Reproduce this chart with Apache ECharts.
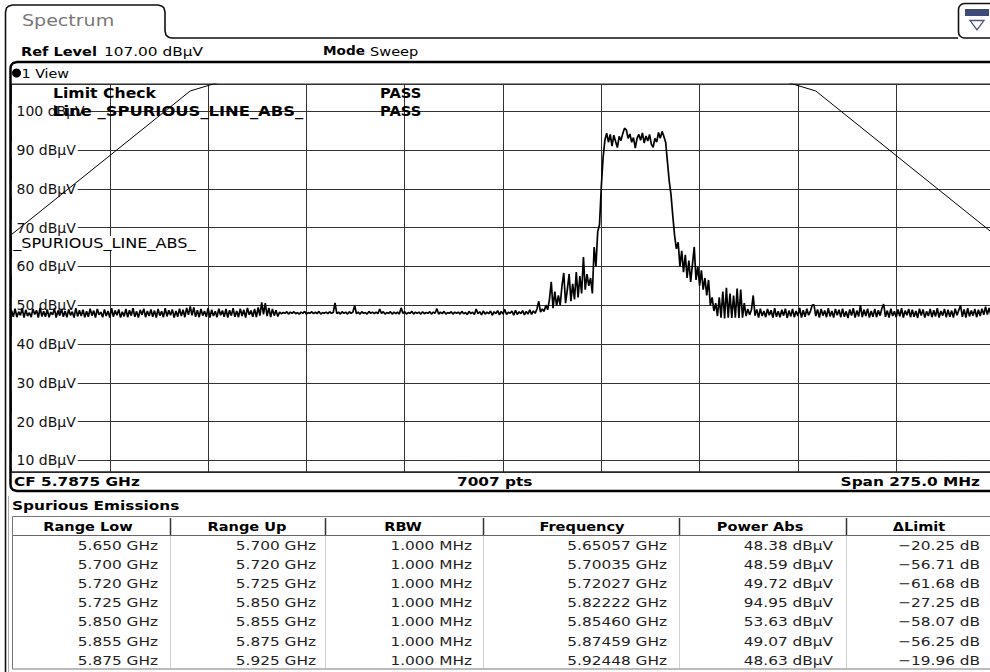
<!DOCTYPE html>
<html><head><meta charset="utf-8">
<script src="https://cdn.jsdelivr.net/npm/echarts@6/dist/echarts.min.js"></script>
<style>html,body{margin:0;padding:0;background:#fff}#c{width:990px;height:672px}</style>
</head><body><div id="c"></div>
<script>
// ---------- data ----------
const centerGHz = 5.7875;
const startMHz = 5650;
const spanMHz = 275;
const traceStepMHz = 0.5;
const yTickLabels = ['10 dBμV','20 dBμV','30 dBμV','40 dBμV','50 dBμV','60 dBμV','70 dBμV','80 dBμV','90 dBμV','100 dBμV'];

const traceA_startMHz = 0;
const traceA = [
48.6,47.0,49.1,46.9,48.3,47.4,49.2,46.8,48.8,47.2,48.1,46.9,49.0,47.6,48.7,46.8,49.3,47.1,48.4,47.0,
48.9,46.9,48.2,47.5,49.1,46.8,48.6,47.3,49.0,47.0,48.5,46.9,48.9,47.4,48.3,46.8,49.2,47.1,48.7,47.2,
48.8,46.9,48.4,47.0,49.1,47.3,48.6,46.8,49.0,47.5,48.2,46.9,48.9,47.2,48.5,46.8,49.2,47.0,48.6,47.4,
48.9,46.8,48.3,47.1,49.0,46.9,48.7,47.3,49.2,47.0,48.4,46.8,48.8,47.5,49.1,46.9,48.5,47.2,48.9,47.0,
48.6,46.8,49.0,47.3,48.4,46.9,49.2,47.1,48.7,47.4,48.9,46.8,48.5,47.0,49.1,47.2,48.8,46.9,49.3,47.5,
49.7,47.4,49.4,47.0,48.7,46.9,49.0,47.3,48.5,47.0,49.2,46.8,48.8,47.2,48.4,46.9,49.1,47.4,48.6,47.0,
49.0,46.8,48.7,47.3,49.2,47.0,48.5,46.9,49.1,47.2,48.8,46.8,49.3,47.5,48.6,47.0,49.0,46.9,49.4,47.3,
50.7,47.6,50.5,47.2,49.3,46.9,49.0,47.3,48.7,47.1];

const traceB_startMHz = 75;
const traceB = [
48.2,47.8,48.1,47.9,48.3,47.7,48.2,47.9,48.3,47.8,48.1,47.7,48.2,47.9,48.4,47.7,48.1,47.9,48.3,47.8,
48.2,47.8,48.4,47.7,48.1,47.9,48.2,47.8,48.3,47.9,48.1,50.6,47.8,48.2,47.7,48.3,47.9,48.2,47.7,48.3,
47.9,48.2,49.9,47.8,48.2,47.7,48.3,47.9,48.1,47.7,48.4,47.9,48.2,47.8,48.2,47.8,49.0,47.9,48.3,47.7,
48.1,47.9,48.3,47.7,48.2,47.8,48.2,47.7,49.3,47.9,48.3,47.7,48.1,47.9,48.4,47.7,48.2,47.9,48.2,47.7,
48.3,47.8,48.1,47.9,48.3,47.7,48.2,47.9,49.1,47.7,48.2,47.8,48.4,47.7,48.1,47.9,48.3,47.7,48.2,47.9,
48.2,47.7,48.4,47.8,48.1,47.6,48.4,47.8,48.2,47.6,49.0,47.8,48.3,47.5,48.5,47.7,48.2,47.8,48.5,47.4,
48.3,47.8,48.6,47.5,48.4,47.7,48.9,47.6,48.2,47.9,48.5,47.4,48.7,47.6,48.3,47.8,48.6,47.5,48.4,47.7,
48.8,47.6,48.5,47.9,49.0];

const traceC_startMHz = 147.5;
const traceC = [
51.0,48.2,49.0,48.4,50.0,48.8,51.5,56.0,49.2,53.5,
49.8,52.5,50.0,55.0,58.3,50.5,54.0,58.0,51.0,55.5,
51.5,58.5,52.0,57.5,53.0,62.4,54.0,58.0,55.0,57.0,
53.0,65.0,60.0,69.0,70.7,80.5,88.0,92.5,94.3,92.0,
94.0,91.0,93.8,92.2,90.6,93.5,92.4,94.2,95.6,95.2,
93.0,94.1,92.0,93.2,90.5,93.0,94.0,92.5,94.4,91.8,
93.6,92.3,94.0,91.5,90.7,93.0,92.0,94.5,93.0,94.8,
93.5,92.0,87.0,82.0,78.5,73.0,68.0,64.5,66.2,60.0,
64.0,58.5,63.0,57.0,61.5,56.0,60.5,65.0,56.5,60.0,
55.0,59.0,54.0,57.0,52.5,56.5,50.0,52.0,48.5,50.5,
47.2,52.0,46.8,53.5,46.6,54.5,46.8,53.0,46.7,52.5,
46.8,54.3,46.7,54.0,46.8,50.5,47.2,49.0,47.5,48.8,
52.5];

const traceD_startMHz = 208;
const traceD = [
47.3,
48.9,46.8,49.1,47.2,48.5,46.9,49.0,47.4,48.7,46.8,49.2,47.0,48.4,46.9,48.8,47.3,49.1,46.7,48.6,47.1,
49.0,46.9,48.5,47.2,49.3,46.8,48.7,47.0,49.1,47.4,48.4,50.0,50.1,47.2,48.9,46.8,49.0,47.3,48.6,46.9,
49.2,47.1,48.5,46.8,49.0,47.4,48.8,46.9,49.1,47.0,48.4,46.7,48.9,47.3,49.2,46.8,48.6,47.1,50.0,46.9,
48.8,47.2,49.1,46.8,48.5,47.0,49.0,46.9,48.7,47.3,49.2,50.3,47.0,48.6,46.8,49.1,47.2,48.4,46.9,48.9,
47.1,49.2,46.8,48.6,47.4,49.0,46.9,48.8,47.0,48.5,46.7,49.1,47.3,48.9,46.8,48.4,47.2,49.0,46.9,48.7,
47.1,49.2,46.8,48.5,47.3,49.0,46.9,48.8,47.0,48.6,46.8,49.1,47.4,48.7,50.0,47.0,48.9,46.8,49.2,47.1,
48.6,47.3,49.0,46.9,48.8,47.2,49.1,47.5,49.6,47.6,49.3,47.4,49.5,47.8];

const limitFreqGHz = [5.650, 5.700, 5.720, 5.725, 5.850, 5.855, 5.875, 5.925];
const limitLevel   = [68.2, 105.2, 110.8, 122.2, 122.2, 110.8, 105.2, 68.2];

const tableHeaders = ['Range Low','Range Up','RBW','Frequency','Power Abs','ΔLimit'];
const rangeLow  = ['5.650 GHz','5.700 GHz','5.720 GHz','5.725 GHz','5.850 GHz','5.855 GHz','5.875 GHz'];
const rangeUp   = ['5.700 GHz','5.720 GHz','5.725 GHz','5.850 GHz','5.855 GHz','5.875 GHz','5.925 GHz'];
const rbw       = ['1.000 MHz','1.000 MHz','1.000 MHz','1.000 MHz','1.000 MHz','1.000 MHz','1.000 MHz'];
const peakFreq  = ['5.65057 GHz','5.70035 GHz','5.72027 GHz','5.82222 GHz','5.85460 GHz','5.87459 GHz','5.92448 GHz'];
const powerAbs  = ['48.38 dBμV','48.59 dBμV','49.72 dBμV','94.95 dBμV','53.63 dBμV','49.07 dBμV','48.63 dBμV'];
const deltaLimit= ['−20.25 dB','−56.71 dB','−61.68 dB','−27.25 dB','−58.07 dB','−56.25 dB','−19.96 dB'];

// ---------- build ----------
const traceData = [];
[[traceA_startMHz, traceA],[traceB_startMHz, traceB],[traceC_startMHz, traceC],[traceD_startMHz, traceD]]
  .forEach(([s, arr]) => arr.forEach((v, i) => traceData.push([s + i * traceStepMHz, v])));
const limitData = limitFreqGHz.map((f, i) => [Math.round(f * 1000 - startMHz), limitLevel[i]]);

const FONT = 'DejaVu Sans';
function T(x, y, text, o) {
  o = o || {};
  const st = {
    text: text, fontFamily: FONT, fontSize: o.size || 13, fontWeight: o.bold ? 'bold' : 'normal',
    fill: o.color || '#000', align: o.align || 'left', verticalAlign: 'middle'
  };
  if (o.bg) { st.backgroundColor = o.bg; st.padding = [0, 1, 0, 1]; }
  return {type: 'text', x: x, y: y, z: 20, scaleX: o.sx || 1.18, silent: true, style: st};
}
function L(x1, y1, x2, y2, color, w) {
  return {type: 'line', z: 15, silent: true, shape: {x1: x1, y1: y1, x2: x2, y2: y2}, style: {stroke: color || '#000', lineWidth: w || 1}};
}
function P(points, color, w) {
  return {type: 'polyline', z: 15, silent: true, shape: {points: points}, style: {stroke: color || '#000', lineWidth: w || 1, fill: null}};
}

const g = [];
// tab + window border
g.push(P([[5.5,672],[5.5,12],[6.5,8],[9,6],[12.5,5],[158,5],[161.5,6],[164,8],[165,12],[165,31],[166,35],[168.5,37.2],[172,38],[958,38]], '#111', 1.6));
// icon box
g.push({type: 'rect', z: 15, silent: true, shape: {x: 958.5, y: 3.5, width: 40, height: 34.5, r: 6}, style: {stroke: '#111', lineWidth: 1.6, fill: '#fff'}});
g.push({type: 'rect', z: 16, silent: true, shape: {x: 965, y: 9, width: 24, height: 7}, style: {fill: '#3e4a78'}});
g.push(L(973, 9, 973, 16, '#fff', 1.5), L(981, 9, 981, 16, '#fff', 1.5));
g.push({type: 'polygon', z: 16, silent: true, shape: {points: [[970, 20.5], [984, 20.5], [977, 30]]}, style: {stroke: '#4a5580', lineWidth: 1.3, fill: null}});
g.push(T(22, 21, 'Spectrum', {size: 16, sx: 1.19, color: '#777'}));
// ref level row
g.push(T(21, 51, 'Ref Level', {bold: true, sx: 1.12}));
g.push(T(104, 51, '107.00 dBμV'));
g.push(T(323, 51, 'Mode', {bold: true, sx: 1.05}));
g.push(T(370, 51, 'Sweep', {sx: 1.12}));
// view box
g.push(P([[992,62],[17,62],[13,63],[11,65.5],[10.5,68.5],[10.5,484.5],[11,487.5],[13,490],[17,491],[992,491]], '#000', 2.5));
g.push(L(10.5, 472, 992, 472, '#222', 1.2));
g.push({type: 'circle', z: 16, silent: true, shape: {cx: 16.5, cy: 73, r: 4.5}, style: {fill: '#000'}});
g.push(T(21.5, 73, '1 View', {sx: 1.1}));
// annotations in plot
g.push(T(53, 93, 'Limit Check', {bold: true, size: 14, sx: 1.12}));
g.push(T(380, 93, 'PASS', {bold: true, size: 14, sx: 1.05}));
g.push(T(53, 111, 'Line _SPURIOUS_LINE_ABS_', {bold: true, size: 14, sx: 1.17}));
g.push(T(380, 111, 'PASS', {bold: true, size: 14, sx: 1.05}));
g.push(T(12, 243, '_SPURIOUS_LINE_ABS_', {size: 14, sx: 1.15, bg: '#fff'}));
// footer of view
g.push(T(14, 481, 'CF ' + centerGHz.toFixed(4) + ' GHz', {bold: true}));
g.push(T(457, 481, '7007 pts', {bold: true}));
g.push(T(980, 481, 'Span ' + spanMHz.toFixed(1) + ' MHz', {bold: true, align: 'right'}));
// table
g.push(T(12, 505, 'Spurious Emissions', {bold: true}));
g.push({type: 'rect', z: 14, silent: true, shape: {x: 12.5, y: 516.5, width: 990, height: 152.5}, style: {stroke: '#777', lineWidth: 1, fill: '#fff'}});
g.push(L(8.5, 496, 8.5, 672, '#aaa', 1));
g.push(L(13, 535.5, 992, 535.5, '#666', 1));
const colSep = [170, 325, 483, 679, 846];
const colCenter = [88, 247, 403, 582, 760, 919];
const colRight = [158, 316, 472, 667, 833, 980];
colSep.forEach(x => { g.push(L(x + 0.5, 518, x + 0.5, 535, '#333', 1.5)); g.push(L(x + 0.5, 536, x + 0.5, 668, '#cfcfcf', 1)); });
tableHeaders.forEach((h, i) => g.push(T(colCenter[i], 526, h, {bold: true, align: 'center', sx: 1.12})));
const cols = [rangeLow, rangeUp, rbw, peakFreq, powerAbs, deltaLimit];
cols.forEach((col, c) => col.forEach((txt, r) => g.push(T(colRight[c], 545 + r * 19.2, txt, {align: 'right', color: '#222'}))));

const chart = echarts.init(document.getElementById('c'), null, {renderer: 'svg', width: 990, height: 672});
chart.setOption({
  animation: false,
  backgroundColor: '#fff',
  grid: {left: 11.5, top: 84, width: 983, height: 388, show: true, borderColor: '#222', borderWidth: 1,
         backgroundColor: 'transparent', containLabel: false, outerBoundsMode: 'none'},
  xAxis: {type: 'value', min: 0, max: spanMHz, interval: spanMHz / 10,
          axisLine: {show: false}, axisTick: {show: false}, axisLabel: {show: false},
          splitLine: {show: true, lineStyle: {color: '#333', width: 1}}},
  yAxis: {type: 'value', min: 7, max: 107, splitNumber: 10,
          axisLine: {show: false}, axisTick: {show: false},
          splitLine: {show: true, lineStyle: {color: '#333', width: 1}},
          axisLabel: {inside: true, margin: 0, fontFamily: FONT, fontSize: 14, color: '#111',
                      backgroundColor: '#fff', padding: [1, 2, 1, 5], showMinLabel: false, showMaxLabel: false,
                      formatter: function (v) { const k = Math.round(v / 10) - 1; return (v % 10 === 0 && yTickLabels[k]) ? yTickLabels[k] : ''; }}},
  series: [
    {name: 'Trace', type: 'line', data: traceData, showSymbol: false, symbol: 'none', silent: true, z: 3,
     lineStyle: {color: '#000', width: 1.7}, clip: true},
    {name: 'Limit', type: 'line', data: limitData, showSymbol: false, symbol: 'none', silent: true, z: 3,
     lineStyle: {color: '#000', width: 1}, clip: true}
  ],
  graphic: {elements: g}
});
</script></body></html>
